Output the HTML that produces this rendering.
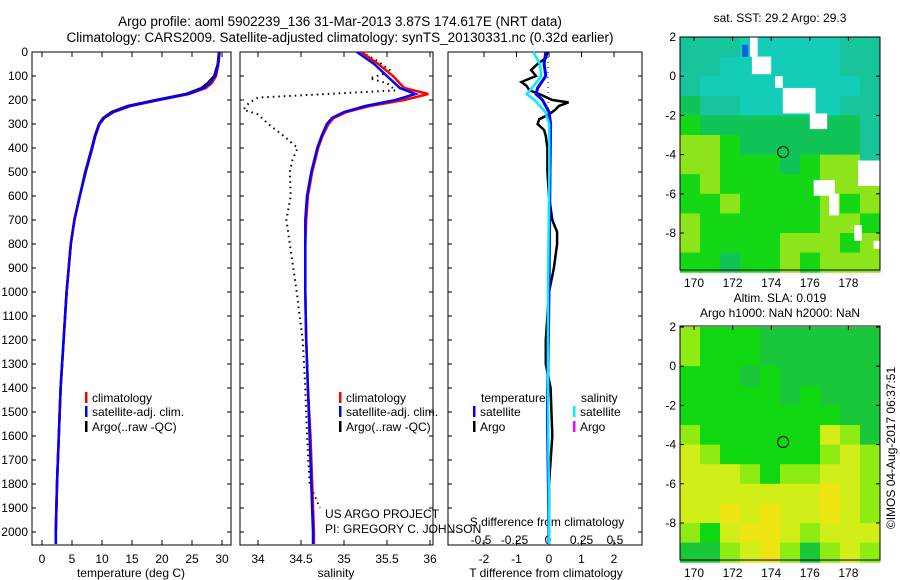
<!DOCTYPE html>
<html><head><meta charset="utf-8"><style>
html,body{margin:0;padding:0;background:#fff;width:900px;height:580px;overflow:hidden}
svg{display:block;font-family:"Liberation Sans",sans-serif}
</style></head><body>
<svg id="c" width="900" height="580" viewBox="0 0 900 580" xmlns="http://www.w3.org/2000/svg">
<text x="340" y="26" text-anchor="middle" font-size="13.5">Argo profile: aoml 5902239_136 31-Mar-2013 3.87S 174.617E (NRT data)</text>
<text x="340" y="42" text-anchor="middle" font-size="13.5">Climatology: CARS2009. Satellite-adjusted climatology: synTS_20130331.nc (0.32d earlier)</text>
<text x="780" y="22" text-anchor="middle" font-size="12">sat. SST: 29.2 Argo: 29.3</text>
<text x="780" y="302" text-anchor="middle" font-size="12">Altim. SLA: 0.019</text>
<text x="780" y="317" text-anchor="middle" font-size="12">Argo h1000: NaN h2000: NaN</text>
<text transform="translate(895,448) rotate(-90)" text-anchor="middle" font-size="12">©IMOS 04-Aug-2017 06:37:51</text>
</svg>
<script>
// ---- data ----
const depthT = [0,50,100,130,150,175,200,225,250,275,300,350,400,500,600,700,800,1000,1200,1400,1600,1800,2000,2050];
const tempClim = [29.6,29.4,29.0,28.3,27.3,24.5,19.5,14.8,12.0,10.4,9.6,8.9,8.4,7.3,6.3,5.4,4.8,4.1,3.6,3.1,2.8,2.5,2.3,2.3];
const tempArgo = [29.5,29.3,28.7,27.6,26.6,24.0,19.0,14.3,11.6,10.2,9.5,8.8,8.3,7.2,6.3,5.4,4.8,4.1,3.6,3.1,2.8,2.5,2.3,2.3];
const depthS = [0,50,100,150,175,200,225,250,275,300,350,400,500,600,700,800,1000,1200,1400,1600,1800,2000,2050];
const salClim = [35.2,35.4,35.57,35.7,35.98,35.7,35.3,35.03,34.88,34.82,34.75,34.7,34.63,34.58,34.56,34.55,34.55,34.56,34.58,34.61,34.63,34.65,34.65];
const salSat = [35.15,35.35,35.5,35.65,35.83,35.6,35.25,35.0,34.86,34.8,34.74,34.69,34.62,34.57,34.55,34.55,34.55,34.56,34.58,34.6,34.62,34.64,34.64];
const depthSA = [0,40,80,110,130,160,190,210,240,260,300,350,400,450,500,600,700,800,1000,1200,1400,1600,1800,1900];
const salArgo = [35.2,35.4,35.55,35.3,35.5,35.6,34.0,33.9,33.83,34.0,34.12,34.3,34.46,34.4,34.37,34.38,34.33,34.37,34.45,34.52,34.55,34.57,34.6,34.72];
const depthD = [0,25,50,75,100,125,140,160,175,200,210,225,240,260,280,300,325,350,400,500,600,700,750,800,850,900,1000,1200,1300,1400,1600,1800,2000];
const tDiffArgo = [-0.05,-0.1,-0.35,-0.55,-0.4,-0.85,-0.7,-0.6,-0.3,0.1,0.6,0.3,0.2,0,-0.3,-0.35,-0.15,-0.1,-0.05,-0.05,0,0.1,0.25,0.25,0.2,0.15,0,-0.1,-0.1,0.05,0.1,0,0];
const depthDS = [0,50,100,150,175,200,250,300,500,1000,1500,2000,2050];
const tDiffSat = [-0.1,-0.15,-0.1,-0.35,-0.4,-0.2,0,0.05,0.03,0,-0.05,0,0];
const sDiffSat = [-0.11,-0.06,-0.05,-0.12,-0.16,-0.1,-0.02,0.01,0.01,0,0,0.01,0.01];
const depthTicks = [0,100,200,300,400,500,600,700,800,900,1000,1100,1200,1300,1400,1500,1600,1700,1800,1900,2000];
const tempTicks = [0,5,10,15,20,25,30];
const salTicks = [34,34.5,35,35.5,36];
const tdTicks = [-2,-1,0,1,2];
const sdTicks = [-0.5,-0.25,0,0.25,0.5];
const lonTicks = [170,172,174,176,178];
const latTicks = [2,0,-2,-4,-6,-8];
const sstGrid = ["tttccccctt","ttcccccctt","tcccccccct","httccccctt","ghhhhhhhht","yyghhhhhht","yyggghgyyt","gygggggyyy","ggyggggygy","yggggggyyg","yggggyyygy","gghggygyyy"];
const sstWhite = [[172.9,2,173.3,1.0],[173.0,1,174.0,0.1],[174.2,0,174.6,-0.6],[174.6,-0.6,176.3,-1.9],[176.0,-1.9,176.9,-2.7],[176.2,-5.3,177.3,-6.1],[177,-6,177.5,-7.1],[178.5,-4.3,179.9,-5.6],[178.3,-7.6,178.7,-8.4],[179.3,-8.4,179.8,-8.8]];
const slaGrid = ["lgggdddddd","lgggdddddd","gggdgddddd","gggggdgddd","ggggggggdd","lggggggyld","ylggggglyl","yyylgllyyl","yyyyyyyoyl","yyoyoyyoyl","lgyooylyyy","ddlyoldlyl"];
const argoLon = [174.617];
const argoLat = [-3.87];
// ---- scales ----
const yD = d => 52 + d*0.24;
const xT = v => 42 + v*6.0;
const xS = v => 258 + (v-34)*86;
const xTD = v => 549 + v*32.5;
const xSD = v => 548 + v*134;
const mLon = l => 694 + (l-170)*19.3;
const mLat1 = a => 37 + (2-a)*19.6;
const mLat2 = a => 327 + (2-a)*19.6;
const svg = document.getElementById('c');
const NS = 'http://www.w3.org/2000/svg';
function mk(tag, attrs){const e=document.createElementNS(NS,tag);for(const k in attrs)e.setAttribute(k,attrs[k]);svg.appendChild(e);return e;}
function line(xs, ys, xf, color, w, name, dash){
  const pts = xs.map((v,i)=>xf(v).toFixed(1)+','+yD(ys[i]).toFixed(1)).join(' ');
  const p = mk('polyline',{points:pts,fill:'none',stroke:color,'stroke-width':w});
  if(dash) p.setAttribute('stroke-dasharray',dash);
  
  
}
function txt(x,y,s,anchor,size,name){
  const t = mk('text',{x:x,y:y,'text-anchor':anchor,'font-size':size});
  t.textContent = s;
  
  
  return t;
}
// panels
const panels = [[32,231,'temperature-panel'],[240,433,'salinity-panel'],[448,642,'difference-panel']];
panels.forEach(p=>{
  const r = mk('rect',{x:p[0],y:52,width:p[1]-p[0],height:493,fill:'#fff',stroke:'#000','stroke-width':1});
  
  
  depthTicks.forEach(d=>{
    mk('line',{x1:p[0],x2:p[0]+4,y1:yD(d),y2:yD(d),stroke:'#000'});
    mk('line',{x1:p[1]-4,x2:p[1],y1:yD(d),y2:yD(d),stroke:'#000'});
  });
});
depthTicks.forEach(d=>{ txt(28,yD(d)+4,String(d),'end',12,'depth-tick-label'); });
function xticks(vals, xf, name, lbl){
  vals.forEach(v=>{
    mk('line',{x1:xf(v),x2:xf(v),y1:52,y2:57,stroke:'#000'});
    mk('line',{x1:xf(v),x2:xf(v),y1:540,y2:545,stroke:'#000'});
    if(lbl) txt(xf(v),563,String(v),'middle',12,name);
  });
}
xticks(tempTicks,xT,'temperature-tick-label',true);
xticks(salTicks,xS,'salinity-tick-label',true);
xticks(tdTicks,xTD,'t-diff-tick-label',true);
sdTicks.forEach(v=>{ txt(xSD(v),544,String(v),'middle',12,'s-diff-tick-label'); });
txt(131,577,'temperature (deg C)','middle',12,'x-axis-title-temperature');
txt(336,577,'salinity','middle',12,'x-axis-title-salinity');
txt(546,577,'T difference from climatology','middle',12,'x-axis-title-t-diff');
txt(547,526,'S difference from climatology','middle',12,'x-axis-title-s-diff');
txt(325,518,'US ARGO PROJECT','start',12,'project-credit');
txt(325,533,'PI: GREGORY C. JOHNSON','start',12,'pi-credit');
// series
line(tempArgo,depthT,xT,'#000',2.5,'temperature-argo-line');
line(tempClim,depthT,xT,'#f00',2.5,'temperature-climatology-line');
line(tempArgo.map((v,i)=>(v+tempClim[i])/2),depthT,xT,'#00f',2.5,'temperature-satellite-line');
line(salArgo,depthSA,xS,'#000',2,'salinity-argo-line','1.5,4');
line(salClim,depthS,xS,'#f00',2.5,'salinity-climatology-line');
line(salSat,depthS,xS,'#00f',2.5,'salinity-satellite-line');
const zl = mk('line',{x1:548,x2:548,y1:52,y2:yD(250),stroke:'#000','stroke-dasharray':'1,4'});


line(tDiffArgo,depthD,xTD,'#000',2.5,'t-diff-argo-line');
line(tDiffSat,depthDS,xTD,'#00f',3,'t-diff-satellite-line');
line(sDiffSat,depthDS,xSD,'#0ef',2.5,'s-diff-satellite-line');
// legends
function leg(x,y,color,label,name){
  const r = mk('rect',{x:x,y:y-10,width:2.5,height:11,fill:color});
  
  
  txt(x+7,y,label,'start',12,name);
}
[[85,'temperature'],[339,'salinity']].forEach(g=>{
  leg(g[0],402,'#f00','climatology',g[1]+'-legend-climatology');
  leg(g[0],416,'#00f','satellite-adj. clim.',g[1]+'-legend-satellite');
  leg(g[0],431,'#000','Argo(..raw -QC)',g[1]+'-legend-argo');
});
txt(481,402,'temperature','start',12,'diff-legend-temperature-header');
txt(581,402,'salinity','start',12,'diff-legend-salinity-header');
leg(473,416,'#00f','satellite','diff-legend-t-satellite');
leg(473,431,'#000','Argo','diff-legend-t-argo');
leg(573,416,'#0ef','satellite','diff-legend-s-satellite');
leg(573,431,'#f0f','Argo','diff-legend-s-argo');
// maps
const sstCol = {c:'#14cdb8',t:'#18c49c',h:'#10c458',g:'#14d816',y:'#8ee41a'};
const slaCol = {g:'#10d810',d:'#1ac63a',l:'#8eec12',y:'#d2ee18',o:'#eee414'};
function drawMap(grid, cols, top, latf, name){
  const g = document.createElementNS(NS,'g');
  
  
  svg.appendChild(g);
  const cw = 20, rh = (latf(-10)-top)/12;
  grid.forEach((row,ri)=>{
    for(let ci=0;ci<10;ci++){
      const e = document.createElementNS(NS,'rect');
      e.setAttribute('x',680+ci*cw);e.setAttribute('y',top+ri*rh);
      e.setAttribute('width',cw+0.5);e.setAttribute('height',rh+0.5);
      e.setAttribute('fill',cols[row[ci]]||cols.g);
      g.appendChild(e);
    }
  });
  return g;
}
drawMap(sstGrid,sstCol,37,mLat1,'sst-map');
sstWhite.forEach(w=>{
  const r = mk('rect',{x:mLon(w[0]),y:mLat1(w[1]),width:mLon(w[2])-mLon(w[0]),height:mLat1(w[3])-mLat1(w[1]),fill:'#fff'});
  
  
});
const bp = mk('rect',{x:mLon(172.5),y:mLat1(1.6),width:6,height:12,fill:'#1060e0'});


drawMap(slaGrid,slaCol,327,mLat2,'sla-map');
[[37,270,mLat1,'sst'],[326,560,mLat2,'sla']].forEach(m=>{
  const f = mk('rect',{x:680,y:m[0],width:200,height:m[1]-m[0],fill:'none',stroke:'#000'});
  
  
  lonTicks.forEach(l=>{
    mk('line',{x1:mLon(l),x2:mLon(l),y1:m[0],y2:m[0]+4,stroke:'#000'});
    txt(mLon(l),m[1]+17,String(l),'middle',12,m[3]+'-lon-tick-label');
  });
  latTicks.forEach(a=>{
    mk('line',{x1:680,x2:684,y1:m[2](a),y2:m[2](a),stroke:'#000'});
    mk('line',{x1:876,x2:880,y1:m[2](a),y2:m[2](a),stroke:'#000'});
    txt(676,m[2](a)+4,String(a),'end',12,m[3]+'-lat-tick-label');
  });
  argoLon.forEach((l,i)=>{
    const c = mk('circle',{cx:mLon(l),cy:m[2](argoLat[i]),r:5.5,fill:'none',stroke:'#000'});
    
    
  });
});
</script>
</body></html>
